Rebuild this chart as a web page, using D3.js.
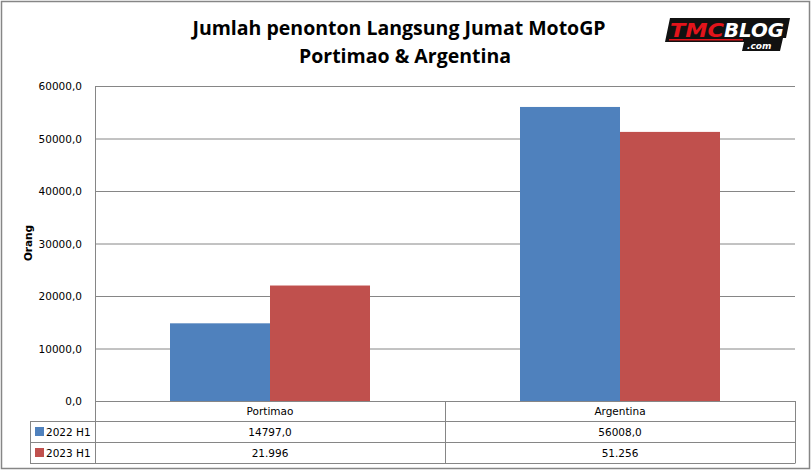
<!DOCTYPE html>
<html><head><meta charset="utf-8">
<script src="https://cdn.jsdelivr.net/npm/d3@7"></script>
<style>body{margin:0;background:#fff}svg{display:block}</style>
</head><body>
<script>
const categories = ["Portimao", "Argentina"];
const seriesNames = ["2022 H1", "2023 H1"];
const values2022 = [14797, 56008];
const values2023 = [21996, 51256];
const labels2022 = ["14797,0", "56008,0"];
const labels2023 = ["21.996", "51.256"];
const yTicks = [0, 10000, 20000, 30000, 40000, 50000, 60000];
const colors = ["#4F81BD", "#C0504D"];

const W = 812, H = 472;
const svg = d3.select("body").append("svg").attr("width", W).attr("height", H);
svg.append("rect").attr("x", 1.5).attr("y", 1.5).attr("width", 808).attr("height", 467)
  .attr("fill", "#fff").attr("stroke", "#868686").attr("stroke-width", 1.5);

const L = 95, R = 795, T = 86, B = 401;
const x = d3.scaleBand().domain(categories).range([L, R]);
const xs = d3.scaleBand().domain(seriesNames).range([0, x.bandwidth()]).paddingOuter(0.75);
const y = d3.scaleLinear().domain([0, 60000]).range([B, T]);

const grid = "#868686";
const g = svg.append("g");
g.selectAll("line.grid").data(yTicks).join("line")
  .attr("x1", L).attr("x2", R).attr("y1", d => y(d) + 0.5).attr("y2", d => y(d) + 0.5)
  .attr("stroke", grid).attr("stroke-width", 1);
g.append("line").attr("x1", L + 0.5).attr("x2", L + 0.5).attr("y1", T).attr("y2", B).attr("stroke", grid);

const series = [values2022, values2023];
series.forEach((vals, si) => {
  g.selectAll("rect.s" + si).data(categories).join("rect")
    .attr("x", c => x(c) + xs(seriesNames[si]))
    .attr("width", xs.bandwidth())
    .attr("y", (c, i) => y(vals[i]))
    .attr("height", (c, i) => B - y(vals[i]))
    .attr("fill", colors[si]);
});

const fmt = d => d3.format(".1f")(d).replace(".", ",");
g.selectAll("text.yt").data(yTicks).join("text")
  .attr("x", 82).attr("y", d => y(d) + 4)
  .attr("text-anchor", "end").attr("font-family", "Verdana, 'DejaVu Sans', sans-serif")
  .attr("font-size", 10.5).attr("fill", "#000").text(fmt);

svg.append("text").attr("transform", "translate(32,243) rotate(-90)")
  .attr("text-anchor", "middle").attr("font-family", "Verdana, 'DejaVu Sans', sans-serif")
  .attr("font-weight", "bold").attr("font-size", 10.5).text("Orang");

const rowY = [401, 421, 442, 463];
const TL = 30;
const tb = svg.append("g").attr("stroke", grid).attr("stroke-width", 1).attr("fill", "none");
[1, 2, 3].forEach(r => tb.append("line").attr("x1", TL).attr("x2", R).attr("y1", rowY[r] + 0.5).attr("y2", rowY[r] + 0.5));
tb.append("line").attr("x1", TL + 0.5).attr("x2", TL + 0.5).attr("y1", rowY[1]).attr("y2", rowY[3] + 0.5);
const vx = [L, ...categories.map(c => x(c) + x.bandwidth())];
vx.forEach(v => tb.append("line").attr("x1", v + 0.5).attr("x2", v + 0.5).attr("y1", rowY[0]).attr("y2", rowY[3] + 0.5));

const tf = "Verdana, 'DejaVu Sans', sans-serif";
svg.selectAll("text.cat").data(categories).join("text")
  .attr("x", c => x(c) + x.bandwidth() / 2).attr("y", 415)
  .attr("text-anchor", "middle").attr("font-family", tf).attr("font-size", 10.5).text(c => c);
[labels2022, labels2023].forEach((labs, si) => {
  svg.selectAll("text.v" + si).data(categories).join("text")
    .attr("x", c => x(c) + x.bandwidth() / 2).attr("y", rowY[si + 1] + 15)
    .attr("text-anchor", "middle").attr("font-family", tf).attr("font-size", 10.5)
    .text((c, i) => labs[i]);
  svg.append("rect").attr("x", 35).attr("y", rowY[si + 1] + 6).attr("width", 9).attr("height", 9).attr("fill", colors[si]);
  svg.append("text").attr("x", 46).attr("y", rowY[si + 1] + 15)
    .attr("font-family", tf).attr("font-size", 10.5).text(seriesNames[si]);
});

const tt = svg.append("text").attr("text-anchor", "middle").attr("font-family", "'Open Sans', 'Liberation Sans', sans-serif")
  .attr("font-weight", "bold").attr("font-size", 19.5);
tt.append("tspan").attr("x", 399).attr("y", 35).text("Jumlah penonton Langsung Jumat MotoGP");
tt.append("tspan").attr("x", 405).attr("y", 63).text("Portimao & Argentina");

// logo
const lg = svg.append("g").attr("transform", "translate(665,18)");
lg.append("path").attr("d", "M5,0 L125,0 L121,20 L118,20 L115,33 L77,33 L79,24 L0,24 Z").attr("fill", "#111");
lg.append("text").attr("x", 5).attr("y", 19).attr("font-family", "'DejaVu Sans', sans-serif").attr("font-weight", "bold")
  .attr("font-style", "italic").attr("font-size", 19).attr("fill", "#e3141b")
  .attr("textLength", 54).attr("lengthAdjust", "spacingAndGlyphs").text("TMC");
lg.append("text").attr("x", 59).attr("y", 19).attr("font-family", "'DejaVu Sans', sans-serif").attr("font-weight", "bold")
  .attr("font-style", "italic").attr("font-size", 19).attr("fill", "#fff")
  .attr("textLength", 60).attr("lengthAdjust", "spacingAndGlyphs").text("BLOG");
lg.append("rect").attr("x", 4).attr("y", 21).attr("width", 74).attr("height", 1.5).attr("fill", "#e3141b");
lg.append("text").attr("x", 82).attr("y", 31).attr("font-family", "'DejaVu Sans', sans-serif").attr("font-weight", "bold")
  .attr("font-style", "italic").attr("font-size", 9).attr("fill", "#fff").text(".com");
</script>
</body></html>
